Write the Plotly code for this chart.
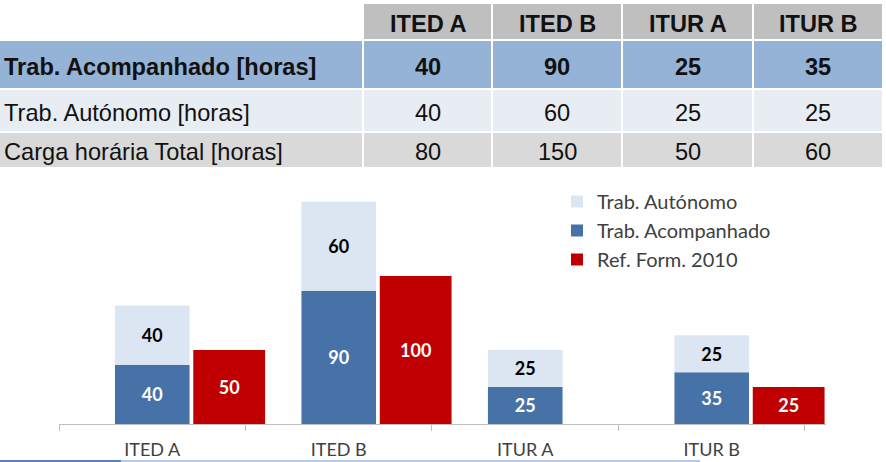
import plotly.graph_objects as go

categories = ["ITED A", "ITED B", "ITUR A", "ITUR B"]
acompanhado = [40, 90, 25, 35]
autonomo = [40, 60, 25, 25]
total = [80, 150, 50, 60]
ref_2010 = [50, 100, None, 25]

row_labels = ["Trab. Acompanhado [horas]", "Trab. Autónomo [horas]", "Carga horária Total [horas]"]

W, H = 886, 462
C_HEAD = "#BFBFBF"
C_ROW1 = "#95B3D7"
C_ROW2 = "#E8EDF4"
C_ROW3 = "#D9D9D9"
C_AUT = "#DCE6F2"
C_ACO = "#4672A8"
C_REF = "#C00000"
TXT = "#111111"
TFONT = "Liberation Sans, Arial, sans-serif"
FONT = "Lato, Open Sans, sans-serif"

# table layout geometry (pixels in the table's own axis)
COL_EDGES = [-1, 363, 492, 622, 753, 883]
ROW_EDGES = [3, 40, 89, 132, 168]
TABLE_PX = 172

fig = go.Figure()

# ---- table cells (heatmap bricks with white gaps) ----
# colour codes: 0 header grey, 1 blue row, 2 light row, 3 grey row, 4 white
zcodes = [[4, 0, 0, 0, 0], [1] * 5, [2] * 5, [3] * 5]
fig.add_trace(go.Heatmap(
    x=COL_EDGES, y=ROW_EDGES, z=zcodes,
    zmin=0, zmax=4,
    colorscale=[[0, C_HEAD], [0.25, C_ROW1], [0.5, C_ROW2], [0.75, C_ROW3], [1, "white"]],
    xgap=2, ygap=2, showscale=False, hoverinfo="skip",
    xaxis="x2", yaxis="y2", showlegend=False,
))

annotations = []
col_centers = [(COL_EDGES[i] + COL_EDGES[i + 1]) / 2 for i in range(len(COL_EDGES) - 1)]
row_centers = [(ROW_EDGES[i] + ROW_EDGES[i + 1]) / 2 for i in range(len(ROW_EDGES) - 1)]
V_SHIFT = 2

def tann(x, y, text, bold, anchor="center"):
    annotations.append(dict(
        x=x, y=y + V_SHIFT, xref="x2", yref="y2", text=text, showarrow=False,
        xanchor=anchor, yanchor="middle",
        font=dict(family=TFONT, size=23.6, color=TXT, weight="bold" if bold else "normal"),
    ))

for j, c in enumerate(categories):
    tann(col_centers[j + 1], row_centers[0], c, True)
table_rows = [acompanhado, autonomo, total]
for r, (lab, vals) in enumerate(zip(row_labels, table_rows)):
    tann(2, row_centers[r + 1], lab, r == 0, anchor="left")
    for j, v in enumerate(vals):
        tann(col_centers[j + 1], row_centers[r + 1], str(v), r == 0)

# ---- bars ----
fig.add_trace(go.Bar(
    x=categories, y=acompanhado, name="Trab. Acompanhado",
    marker=dict(color=C_ACO, line=dict(width=0)),
    width=0.4, offset=-0.2,
    text=[str(v) for v in acompanhado], textposition="inside",
    insidetextanchor="middle", textangle=0,
    textfont=dict(family=FONT, size=18, color="white", weight="bold"),
    legendrank=2, legendgroup="g2", hoverinfo="skip",
))
fig.add_trace(go.Bar(
    x=categories, y=autonomo, base=acompanhado, name="Trab. Autónomo",
    marker=dict(color=C_AUT, line=dict(width=0)),
    width=0.4, offset=-0.2,
    text=[str(v) for v in autonomo], textposition="inside",
    insidetextanchor="middle", textangle=0,
    textfont=dict(family=FONT, size=18, color="black", weight="bold"),
    legendrank=1, legendgroup="g1", hoverinfo="skip",
))
fig.add_trace(go.Bar(
    x=categories, y=ref_2010, name="Ref. Form. 2010",
    marker=dict(color=C_REF, line=dict(width=0)),
    width=0.385, offset=0.22,
    text=["" if v is None else str(v) for v in ref_2010], textposition="inside",
    insidetextanchor="middle", textangle=0,
    textfont=dict(family=FONT, size=18, color="white", weight="bold"),
    legendrank=3, legendgroup="g3", hoverinfo="skip",
))

fig.update_layout(
    width=W, height=H,
    margin=dict(l=0, r=0, t=0, b=0),
    paper_bgcolor="white", plot_bgcolor="rgba(0,0,0,0)",
    barmode="overlay",
    xaxis=dict(
        domain=[59 / W, 825.5 / W],
        type="category", range=[-0.5, 3.61],
        showline=True, linecolor="#BFBFBF", linewidth=1,
        ticks="outside", tickson="boundaries", ticklen=6, tickcolor="#BFBFBF",
        tickfont=dict(family=FONT, size=18, color="#404040"),
        ticklabelstandoff=9,
        showgrid=False, zeroline=False, automargin=False, fixedrange=True,
    ),
    yaxis=dict(
        domain=[(H - 424) / H, (H - 187) / H],
        range=[0, 160], visible=False, showgrid=False, zeroline=False,
        automargin=False, fixedrange=True,
    ),
    xaxis2=dict(
        domain=[0, 1], range=[0, W], visible=False, anchor="y2",
        showgrid=False, zeroline=False, fixedrange=True,
    ),
    yaxis2=dict(
        domain=[1 - TABLE_PX / H, 1], range=[TABLE_PX, 0], visible=False,
        anchor="x2", showgrid=False, zeroline=False, fixedrange=True,
    ),
    legend=dict(
        x=557 / W, y=(H - 182) / H, xanchor="left", yanchor="top",
        font=dict(family=FONT, size=20, color="#404040"),
        traceorder="normal", tracegroupgap=9, bgcolor="rgba(0,0,0,0)",
    ),
    showlegend=True,
    annotations=annotations,
    shapes=[
        dict(type="line", xref="paper", yref="paper", x0=0, x1=121 / W,
             y0=1 / H, y1=1 / H, line=dict(color="#5B7FC4", width=2)),
        dict(type="line", xref="paper", yref="paper", x0=121 / W, x1=700 / W,
             y0=1 / H, y1=1 / H, line=dict(color="#B8C9E8", width=2)),
    ],
)

fig.write_html("out.html")
